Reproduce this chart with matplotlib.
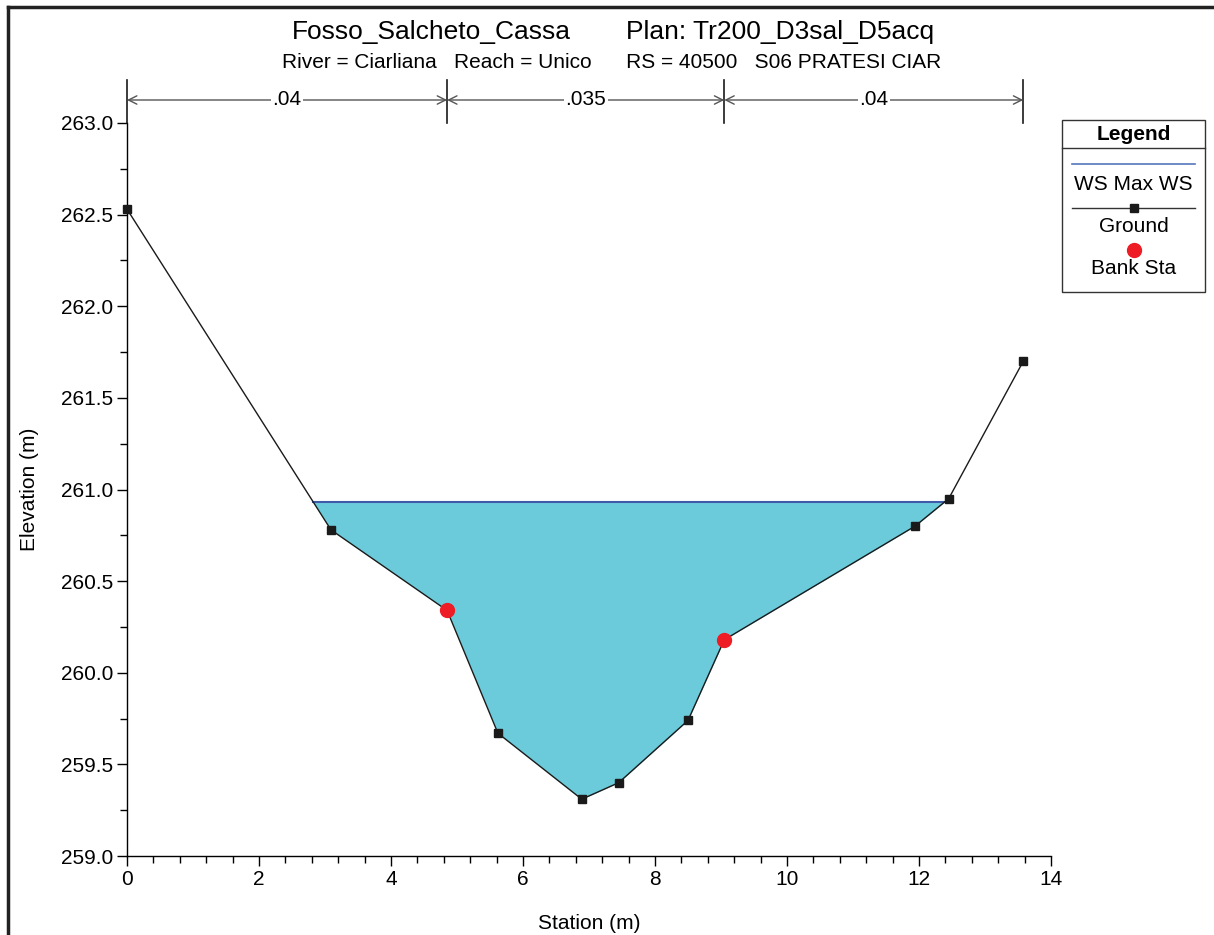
import numpy as np
import matplotlib.pyplot as plt
from matplotlib.lines import Line2D
from matplotlib.patches import Rectangle

plt.rcParams['font.family'] = ['Liberation Sans', 'DejaVu Sans']

# Ground profile (station, elevation)
station = [0.0, 3.09, 4.85, 5.62, 6.89, 7.45, 8.50, 9.05, 11.94, 12.45, 13.58]
elevation = [262.53, 260.78, 260.34, 259.67, 259.31, 259.40, 259.74, 260.18, 260.80, 260.95, 261.70]

# Bank stations
bank_sta = [4.85, 9.05]
bank_elev = [260.34, 260.18]

# Water surface
ws_elev = 260.93

# Manning's n breaks
n_breaks = [0.0, 4.85, 9.05, 13.58]
n_values = ['.04', '.035', '.04']

fig = plt.figure(figsize=(12.14, 9.35), dpi=100)
ax = fig.add_axes([127 / 1214, 79 / 935, 924 / 1214, 733 / 935])

st = np.array(station)
el = np.array(elevation)

# water fill: clip ground profile below WS
xf = np.linspace(st[0], st[-1], 4000)
gf = np.interp(xf, st, el)
ax.fill_between(xf, gf, ws_elev, where=gf <= ws_elev, color='#6ccbdb', lw=0, zorder=1)
wet = xf[gf <= ws_elev]
ax.plot([wet.min(), wet.max()], [ws_elev, ws_elev], color='#3f5aa8', lw=1.5, zorder=2)

ax.plot(st, el, color='#1a1a1a', lw=1.0, marker='s', ms=6, mfc='#1a1a1a', mec='#1a1a1a', zorder=3,
        clip_on=False)
ax.plot(bank_sta, bank_elev, 'o', color='#ee1c25', ms=10, zorder=4, clip_on=False)

ax.set_xlim(0, 14)
ax.set_ylim(259, 263)
ax.set_xticks(np.arange(0, 15, 2))
ax.set_xticks(np.arange(0, 14.01, 0.4), minor=True)
ax.set_yticks(np.arange(259, 263.01, 0.5))
ax.set_yticks(np.arange(259, 263.01, 0.25), minor=True)
ax.yaxis.set_major_formatter(plt.FormatStrFormatter('%.1f'))
ax.spines['top'].set_visible(False)
ax.spines['right'].set_visible(False)
for s in ['left', 'bottom']:
    ax.spines[s].set_linewidth(1.0)
ax.tick_params(which='major', direction='out', length=7, width=1, labelsize=15, pad=3)
ax.tick_params(which='minor', direction='out', length=5, width=1)
ax.set_xlabel('Station (m)', fontsize=15, labelpad=18)
ax.set_ylabel('Elevation (m)', fontsize=15, labelpad=16)

# Manning's n markers above the plot
ytop = 263.0
y_arrow = ytop + 23 / 183.25
y_vt = ytop + 43 / 183.25
for xb in n_breaks:
    ax.plot([xb, xb], [ytop, y_vt], color='#1a1a1a', lw=1.2, clip_on=False)
for i, lab in enumerate(n_values):
    x0, x1 = n_breaks[i], n_breaks[i + 1]
    ax.annotate('', xy=(x1, y_arrow), xytext=(x0, y_arrow), annotation_clip=False,
                arrowprops=dict(arrowstyle='<->,head_length=0.6,head_width=0.3',
                                color='#555555', lw=1.0, shrinkA=0, shrinkB=0))
    ax.text((x0 + x1) / 2, y_arrow, lab, ha='center', va='center', fontsize=15,
            bbox=dict(facecolor='white', edgecolor='none', pad=1), clip_on=False)

# Titles
fig.text(431 / 1214, 1 - 32 / 935, 'Fosso_Salcheto_Cassa', ha='center', va='center', fontsize=19)
fig.text(780 / 1214, 1 - 32 / 935, 'Plan: Tr200_D3sal_D5acq', ha='center', va='center', fontsize=19)
fig.text(612 / 1214, 1 - 62 / 935, 'River = Ciarliana   Reach = Unico      RS = 40500   S06 PRATESI CIAR',
         ha='center', va='center', fontsize=15)

# Legend box
lx0, lx1 = 1062 / 1214, 1205 / 1214
ly0, ly1 = 1 - 292 / 935, 1 - 120 / 935
fig.add_artist(Rectangle((lx0, ly0), lx1 - lx0, ly1 - ly0, transform=fig.transFigure,
                         facecolor='white', edgecolor='#333333', lw=1.0))
fig.add_artist(Line2D([lx0, lx1], [1 - 148 / 935] * 2, transform=fig.transFigure, color='#333333', lw=1.0))
lxc = (lx0 + lx1) / 2
fig.text(lxc, 1 - 134 / 935, 'Legend', ha='center', va='center', fontsize=15, fontweight='bold')
fig.add_artist(Line2D([1072 / 1214, 1195 / 1214], [1 - 164 / 935] * 2, transform=fig.transFigure,
                      color='#5577bb', lw=1.2))
fig.text(lxc, 1 - 185 / 935, 'WS Max WS', ha='center', va='center', fontsize=15)
fig.add_artist(Line2D([1072 / 1214, 1195 / 1214], [1 - 208 / 935] * 2, transform=fig.transFigure,
                      color='#333333', lw=1.0))
fig.add_artist(Line2D([lxc], [1 - 208 / 935], transform=fig.transFigure, marker='s', ms=6,
                      color='#1a1a1a', lw=0))
fig.text(lxc, 1 - 227 / 935, 'Ground', ha='center', va='center', fontsize=15)
fig.add_artist(Line2D([lxc], [1 - 250 / 935], transform=fig.transFigure, marker='o', ms=10,
                      color='#ee1c25', lw=0))
fig.text(lxc, 1 - 269 / 935, 'Bank Sta', ha='center', va='center', fontsize=15)

# Outer frame (left and top edges)
fig.add_artist(Line2D([8 / 1214, 8 / 1214], [0, 1 - 7 / 935], transform=fig.transFigure, color='#222222', lw=2.5))
fig.add_artist(Line2D([8 / 1214, 1], [1 - 7 / 935, 1 - 7 / 935], transform=fig.transFigure, color='#222222', lw=2.5))

fig.savefig('out.png', dpi=100)
